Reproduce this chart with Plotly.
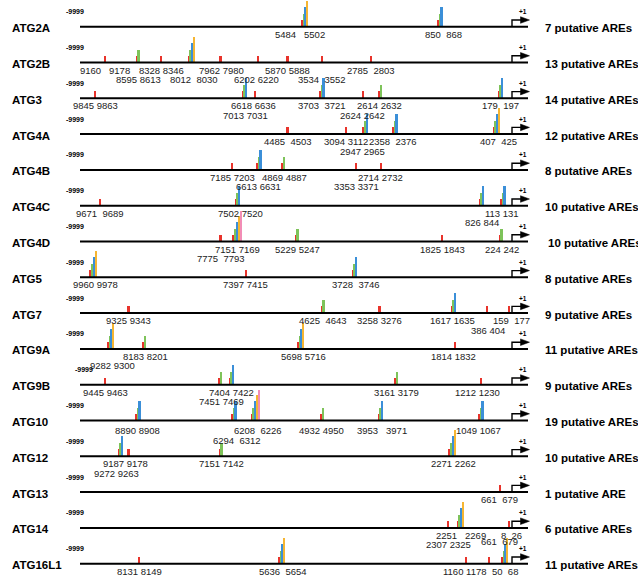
import plotly.graph_objects as go

# ---------------- data ----------------
GENES = ["ATG2A", "ATG2B", "ATG3", "ATG4A", "ATG4B", "ATG4C", "ATG4D", "ATG5",
         "ATG7", "ATG9A", "ATG9B", "ATG10", "ATG12", "ATG13", "ATG14", "ATG16L1"]
TOTAL_ARES = [7, 13, 14, 12, 8, 10, 10, 8, 9, 11, 9, 19, 10, 1, 6, 11]

# schematic (not-to-scale) position of each ARE cluster along the drawn promoter:
# 0 = the -9999 end of the line, 100 = the +1 transcription start
SITE_POS = {
    "ATG2A": [51.4, 82.9],
    "ATG2B": [5.8, 13.2, 18.8, 25.2, 32.6, 41.2, 48.1, 56.0, 67.4],
    "ATG3": [3.5, 37.7, 40.5, 55.6, 65.5, 69.4, 97.0],
    "ATG4A": [48.1, 61.6, 65.7, 72.5, 95.8],
    "ATG4B": [35.2, 41.0, 46.8, 63.9, 69.7],
    "ATG4C": [4.6, 36.1, 92.6, 97.5],
    "ATG4D": [32.6, 35.6, 50.0, 83.8, 97.2],
    "ATG5": [2.5, 38.4, 63.2],
    "ATG7": [11.3, 56.0, 69.4, 86.1, 94.2, 99.3],
    "ATG9A": [6.5, 14.6, 50.5, 86.8],
    "ATG9B": [5.8, 32.2, 34.7, 73.1, 92.8],
    "ATG10": [13.0, 35.2, 39.8, 55.8, 69.2, 92.4],
    "ATG12": [9.0, 11.3, 32.4, 85.6],
    "ATG13": [97.2],
    "ATG14": [85.2, 87.5, 99.3],
    "ATG16L1": [13.7, 46.1, 89.4, 94.7, 97.7],
}
# number of AREs in each cluster (bars: red, green, blue, orange, pink)
SITE_COUNT = {
    "ATG2A": [4, 3],
    "ATG2B": [1, 2, 1, 4, 1, 1, 1, 1, 1],
    "ATG3": [1, 3, 1, 3, 1, 2, 3],
    "ATG4A": [1, 1, 3, 3, 4],
    "ATG4B": [1, 3, 2, 1, 1],
    "ATG4C": [1, 3, 3, 3],
    "ATG4D": [1, 5, 2, 1, 2],
    "ATG5": [4, 1, 3],
    "ATG7": [1, 2, 1, 3, 1, 1],
    "ATG9A": [4, 2, 4, 1],
    "ATG9B": [1, 2, 3, 2, 1],
    "ATG10": [3, 3, 5, 2, 3, 3],
    "ATG12": [3, 1, 2, 4],
    "ATG13": [1],
    "ATG14": [1, 4, 1],
    "ATG16L1": [1, 4, 1, 1, 4],
}
SITE_LABEL = {
    "ATG2A": ["5484   5502", "850  868"],
    "ATG2B": ["9160   9178", "8595 8613", "8328 8346", "8012  8030", "7962 7980",
              "6202 6220", "5870 5888", "3534  3552", "2785  2803"],
    "ATG3": ["9845 9863", "7013 7031", "6618 6636", "3703  3721", "2624 2642",
             "2614 2632", "179  197"],
    "ATG4A": ["4485  4503", "3094 3112", "2947 2965", "2358  2376", "407  425"],
    "ATG4B": ["7185 7203", "6613 6631", "4869 4887", "3353 3371", "2714 2732"],
    "ATG4C": ["9671  9689", "7502 7520", "826 844", "113 131"],
    "ATG4D": ["7775  7793", "7151 7169", "5229 5247", "1825 1843", "224 242"],
    "ATG5": ["9960 9978", "7397 7415", "3728  3746"],
    "ATG7": ["9325 9343", "4625  4643", "3258 3276", "1617 1635", "386 404", "159  177"],
    "ATG9A": ["9282 9300", "8183 8201", "5698 5716", "1814 1832"],
    "ATG9B": ["9445 9463", "7451 7469", "7404 7422", "3161 3179", "1212 1230"],
    "ATG10": ["8890 8908", "6294  6312", "6208  6226", "4932 4950", "3953   3971", "1049 1067"],
    "ATG12": ["9272 9263", "9187 9178", "7151 7142", "2271 2262"],
    "ATG13": ["661  679"],
    "ATG14": ["2307 2325", "2251   2269", "8  26"],
    "ATG16L1": ["8131 8149", "5636  5654", "1160 1178", "661  679", "50  68"],
}

# ---------------- styles / layout ----------------
ARE_COLORS = ["#e8332b", "#7ec35a", "#3b8fd8", "#f5b532", "#f28db6"]
ARE_HEIGHT_PX = [7, 13, 20, 26, 31]
BAR_W_PX = 1.7
PITCH_PX = 1.8

W, H = 638, 576
X0_PX = 80.0        # pixel of track origin
PX_PER_U = 4.32
ROW0_PX = 26.7
ROW_PX = 35.8
LINE_END_PX = 528.0

# label row: 1 = first line below, 2 = second line below, 0 = above the track
LABEL_ROW = {
    "ATG2A": [1, 1],
    "ATG2B": [1, 2, 1, 2, 1, 2, 1, 2, 1],
    "ATG3": [1, 2, 1, 1, 2, 1, 1],
    "ATG4A": [1, 1, 2, 1, 1],
    "ATG4B": [1, 2, 1, 2, 1],
    "ATG4C": [1, 1, 2, 1],
    "ATG4D": [2, 1, 1, 1, 1],
    "ATG5": [1, 1, 1],
    "ATG7": [1, 1, 1, 1, 2, 1],
    "ATG9A": [2, 1, 1, 1],
    "ATG9B": [1, 2, 1, 1, 1],
    "ATG10": [1, 2, 1, 1, 1, 1],
    "ATG12": [2, 1, 1, 1],
    "ATG13": [1],
    "ATG14": [2, 1, 1],
    "ATG16L1": [1, 1, 1, 0, 1],
}
LABEL_NUDGE_PX = {
    "ATG2A": [-4.5, 3.3],
    "ATG2B": [0, 1, 0, 2.5, 1, -1, 0, 0, 0],
    "ATG3": [0, 1.3, -1, 0, 0, -1, 0],
    "ATG4A": [0, 0, -2.7, -1.7, 1.5],
    "ATG4B": [0, -0.7, 1, 0, -1],
    "ATG4C": [0, 2.3, 0, -0.7],
    "ATG4D": [0, 0.6, 1, 0, 1],
    "ATG5": [1.5, 0, 1.3],
    "ATG7": [0, 0, 0, -1.7, 1, 3],
    "ATG9A": [1.5, 2, 2.5, -1],
    "ATG9B": [0, 1, 0, 0, -3],
    "ATG10": [0, 3.3, 2.6, 0, 1.3, -2.7],
    "ATG12": [-3.7, -3, 1, 1.5],
    "ATG13": [0],
    "ATG14": [0, 0.5, 3],
    "ATG16L1": [0, 1.5, -1, 10, 0],
}
ROW_DY_PX = {1: 7.5, 2: 17.0, 0: -22.0}
GENE_LABEL_DY = {"ATG10": 2.5}
MINUS_X_NUDGE = {"ATG9B": 9}
COUNT_X_NUDGE = {"ATG4D": 3}

FONT = "Liberation Sans, Arial, Helvetica, sans-serif"


def dxu(px):
    return px / PX_PER_U


def dyr(px):
    return px / ROW_PX


fig = go.Figure()

# track lines
lx, ly = [], []
for i, g in enumerate(GENES):
    lx += [0, dxu(LINE_END_PX - X0_PX), None]
    ly += [-i, -i, None]
fig.add_trace(go.Scatter(x=lx, y=ly, mode="lines", line=dict(color="black", width=2),
                         hoverinfo="skip"))

# ARE bars
for k, color in enumerate(ARE_COLORS):
    xs, bs, hs = [], [], []
    for i, g in enumerate(GENES):
        for p, n in zip(SITE_POS[g], SITE_COUNT[g]):
            if n > k:
                xs.append(p + dxu(k * PITCH_PX))
                bs.append(-i)
                hs.append(dyr(ARE_HEIGHT_PX[k]))
    fig.add_trace(go.Bar(x=xs, y=hs, base=bs, width=dxu(BAR_W_PX),
                         marker=dict(color=color, line=dict(width=0)),
                         hoverinfo="skip"))

# bent arrows at +1
ax, ay, hx, hy = [], [], [], []
for i in range(len(GENES)):
    y = -i
    ya = y + dyr(6.7)
    ax += [100, 100, 100 + dxu(9.0), None]
    ay += [y, ya, ya, None]
    hx += [100 + dxu(8.5), 100 + dxu(17.5), 100 + dxu(8.5), 100 + dxu(8.5), None]
    hy += [ya + dyr(3.3), ya, ya - dyr(3.3), ya + dyr(3.3), None]
fig.add_trace(go.Scatter(x=ax, y=ay, mode="lines", line=dict(color="black", width=1.4),
                         hoverinfo="skip"))
fig.add_trace(go.Scatter(x=hx, y=hy, mode="lines", fill="toself", fillcolor="black",
                         line=dict(color="black", width=0.5), hoverinfo="skip"))

ann = []
for i, g in enumerate(GENES):
    y = -i
    ann.append(dict(x=dxu(10 - X0_PX), y=y - dyr(1.5),
                    text=f"<b>{g}</b>", xanchor="left", yanchor="middle",
                    font=dict(size=11.5, family=FONT, color="black")))
    ann.append(dict(x=dxu(75 - X0_PX + MINUS_X_NUDGE.get(g, 0)), y=y + dyr(15),
                    text="<b>-9999</b>", xanchor="center", yanchor="middle",
                    font=dict(size=7, family=FONT, color="black")))
    ann.append(dict(x=dxu(523 - X0_PX), y=y + dyr(15), text="<b>+1</b>",
                    xanchor="center", yanchor="middle",
                    font=dict(size=6.5, family=FONT, color="black")))
    n = TOTAL_ARES[i]
    ann.append(dict(x=dxu(543 - X0_PX + COUNT_X_NUDGE.get(g, 0)), y=y - dyr(1.5),
                    text=f"<b>{n} putative ARE{'s' if n != 1 else ''}</b>",
                    xanchor="left", yanchor="middle",
                    font=dict(size=11.5, family=FONT, color="black")))
    for p, n_, lab, row, nud in zip(SITE_POS[g], SITE_COUNT[g], SITE_LABEL[g],
                                     LABEL_ROW[g], LABEL_NUDGE_PX[g]):
        cx = p + dxu((n_ - 1) * PITCH_PX / 2 + nud)
        dy = ROW_DY_PX[row] + (GENE_LABEL_DY.get(g, 0) if row else 0)
        ann.append(dict(x=cx, y=y - dyr(dy), text=lab.replace(" ", "\u00a0"),
                        xanchor="center", yanchor="middle",
                        font=dict(size=9.5, family=FONT, color="#222222")))

for a in ann:
    a["showarrow"] = False
    a["xref"] = "x"
    a["yref"] = "y"

fig.update_layout(
    width=W, height=H, autosize=False,
    margin=dict(l=0, r=0, t=0, b=0, pad=0),
    paper_bgcolor="white", plot_bgcolor="white",
    showlegend=False, barmode="overlay", bargap=0,
    annotations=ann,
    xaxis=dict(range=[dxu(-X0_PX), dxu(W - X0_PX)], visible=False, fixedrange=True),
    yaxis=dict(range=[-(H - ROW0_PX) / ROW_PX, ROW0_PX / ROW_PX], visible=False,
               fixedrange=True),
)

fig.write_html(
    "out.html",
    config={"displayModeBar": False},
    post_script=("document.body.style.margin='0';document.body.style.padding='0';"
                 "document.documentElement.style.overflow='hidden';"),
)
